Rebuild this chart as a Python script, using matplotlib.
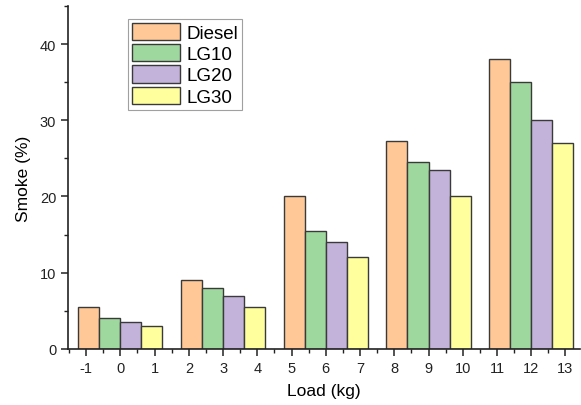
import numpy as np
import matplotlib.pyplot as plt
from matplotlib.ticker import MultipleLocator

plt.rcParams['font.family'] = ['Liberation Sans', 'DejaVu Sans']

# data
series = ["Diesel", "LG10", "LG20", "LG30"]
diesel = [5.5, 9.0, 20.0, 27.3, 38.0]
lg10 = [4.0, 8.0, 15.5, 24.5, 35.0]
lg20 = [3.5, 7.0, 14.0, 23.5, 30.0]
lg30 = [3.0, 5.5, 12.0, 20.0, 27.0]
group_pos = [0, 3, 6, 9, 12]
tick_vals = list(range(-1, 14))

colors = ["#ffc896", "#9ed89e", "#c3b2d9", "#ffff9e"]
values = [diesel, lg10, lg20, lg30]

fig = plt.figure(figsize=(5.81, 4.06), dpi=100)
ax = fig.add_axes([0.117, 0.138, 0.881, 0.845])

w = 0.615
offsets = (np.arange(4) - 1.5) * w
for i in range(4):
    ax.bar(np.array(group_pos) + offsets[i], values[i], width=w,
           color=colors[i], edgecolor="#3a3a3a", linewidth=1.0,
           label=series[i])

ax.set_xlim(-1.53, 13.42)
ax.set_ylim(0, 45)
ax.set_xticks(tick_vals)
ax.set_xticklabels([str(t) for t in tick_vals])
ax.set_xticks(np.arange(-1.5, 13.5, 1.0), minor=True)
ax.yaxis.set_major_locator(MultipleLocator(10))
ax.yaxis.set_minor_locator(MultipleLocator(5))

ax.spines["top"].set_visible(False)
ax.spines["right"].set_visible(False)
for s in ["left", "bottom"]:
    ax.spines[s].set_linewidth(1.2)
    ax.spines[s].set_color("#222222")

ax.tick_params(axis="both", which="major", direction="out", length=5,
               width=1.1, labelsize=10.5, colors="#222222")
ax.tick_params(axis="both", which="minor", direction="out", length=3,
               width=1.0, colors="#222222")

ax.set_xlabel("Load (kg)", fontsize=12.5, labelpad=6)
ax.set_ylabel("Smoke (%)", fontsize=12.5, labelpad=6)

leg = ax.legend(loc="upper left", bbox_to_anchor=(0.117, 0.962),
                fontsize=13.5, frameon=True, fancybox=False,
                handlelength=2.6, handleheight=1.05, handletextpad=0.35,
                labelspacing=0.12, borderpad=0.2, borderaxespad=0)
leg.get_frame().set_edgecolor("#888888")
leg.get_frame().set_linewidth(0.8)

plt.savefig("out.png", dpi=100)
